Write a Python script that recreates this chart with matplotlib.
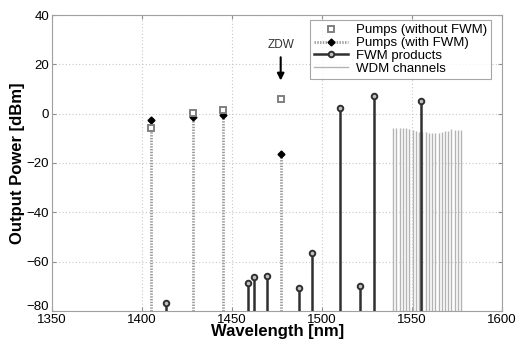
import numpy as np
import matplotlib
matplotlib.use("Agg")
from matplotlib import pyplot as plt
from matplotlib.transforms import ScaledTranslation

plt.rcParams["font.family"] = ["Liberation Sans", "DejaVu Sans"]

# pumps
pump_wl = [1405, 1428.5, 1445, 1477]
pump_without = [-5.8, 0.4, 1.4, 5.8]
pump_with = [-2.7, -1.3, -0.4, -16.2]

# FWM products
fwm_wl = [1413, 1459, 1462, 1469.5, 1487, 1494.5, 1510, 1521, 1528.7, 1555]
fwm_pow = [-76.8, -68.5, -66.3, -65.8, -70.6, -56.3, 2.2, -70, 7.2, 5]

# WDM channels
wdm_wl = [1539.5, 1541.3, 1543.1, 1544.9, 1546.7, 1548.5, 1550.3, 1552.1, 1553.9,
          1555.7, 1557.5, 1559.3, 1561.1, 1562.9, 1564.7, 1566.5, 1568.3, 1570.1,
          1571.9, 1573.7, 1575.5, 1577.3]
wdm_pow = [-5.8, -5.8, -5.8, -5.8, -5.9, -6.2, -6.6, -7.2, -7.4, -7.4, -7.6, -7.7,
           -7.7, -7.9, -7.7, -7.4, -7.2, -6.9, -6.4, -6.5, -6.6, -6.7]

fig = plt.figure(figsize=(5.16, 3.49), dpi=100)
ax = fig.add_axes([0.101, 0.109, 0.872, 0.848])
base = -80

# WDM channels
ax.vlines(wdm_wl, base, wdm_pow, color="#b4b4b4", lw=1.0, zorder=2)
ax.plot([], [], color="#b4b4b4", lw=1.0, label="WDM channels")

# pumps with FWM (dotted stems)
ax.vlines(pump_wl, base, pump_with, color="#9a9a9a", lw=2.0, linestyles=(0, (0.5, 0.5)), zorder=3)
ax.plot(pump_wl, pump_with, ls="none", marker="D", ms=3.5, color="black", zorder=5)
# pumps without FWM
ax.plot(pump_wl, pump_without, ls="none", marker="s", ms=3.8, mfc="white",
        mec="#808080", mew=1.4, zorder=6, label="Pumps (without FWM)")
ax.plot([], [], color="#9a9a9a", ls=(0, (0.5, 0.5)), lw=2.0, marker="D", ms=3.5,
        mfc="black", mec="black", label="Pumps (with FWM)")

# FWM products
ax.vlines(fwm_wl, base, fwm_pow, color="#303030", lw=1.8, zorder=4)
ax.plot(fwm_wl, fwm_pow, ls="none", marker="o", ms=4, mfc="#c0c0c0",
        mec="#303030", mew=1.4, zorder=5)
ax.plot([], [], color="#303030", lw=1.8, marker="o", ms=4, mfc="#c0c0c0",
        mec="#303030", mew=1.4, label="FWM products")

handles, labels = ax.get_legend_handles_labels()
order = [1, 2, 3, 0]
leg = ax.legend([handles[i] for i in order], [labels[i] for i in order],
                loc="upper right", bbox_to_anchor=(0.99, 1.005), fontsize=9.5,
                frameon=True, fancybox=False, edgecolor="#909090",
                handlelength=2.6, borderpad=0.3, labelspacing=0.05,
                handletextpad=0.6)
leg.get_frame().set_linewidth(0.8)

# ZDW arrow
ax.annotate("", xy=(1477, 12.3), xytext=(1477, 24),
            arrowprops=dict(arrowstyle="-|>", color="black", lw=1.5, mutation_scale=10))
ax.text(1477, 27.8, "ZDW", ha="center", va="center", fontsize=8.5, color="#333333")

ax.set_xlim(1350, 1600)
ax.set_ylim(-80, 40)
ax.set_xticks([1350, 1400, 1450, 1500, 1550, 1600])
ax.set_yticks([-80, -60, -40, -20, 0, 20, 40])
ax.grid(True, color="#c8c8c8", ls=(0, (1, 2)), lw=0.8)
ax.set_axisbelow(True)
ax.tick_params(direction="in", top=True, right=True, labelsize=9.5, length=3,
               color="#909090", pad=2)
for s in ax.spines.values():
    s.set_color("#a0a0a0")
ax.set_xlabel("Wavelength [nm]", fontsize=12, fontweight="bold", labelpad=-1)
ax.set_ylabel("Output Power [dBm]", fontsize=12, fontweight="bold", labelpad=1)

# nudge the lowest y label up so it clears the first x label
fig.canvas.draw()
lab = ax.get_yticklabels()[0]
lab.set_transform(lab.get_transform() + ScaledTranslation(0, 4 / 72, fig.dpi_scale_trans))

fig.savefig("out.png", dpi=100)
